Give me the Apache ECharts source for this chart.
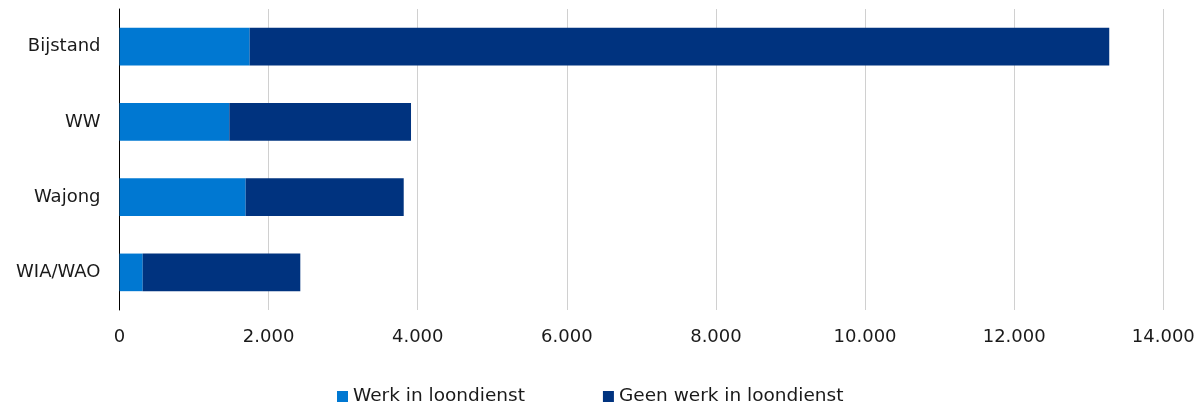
<!DOCTYPE html>
<html>
<head>
<meta charset="utf-8">
<script src="https://cdn.jsdelivr.net/npm/echarts@6/dist/echarts.min.js"></script>
<style>html,body{margin:0;padding:0;background:#fff}#c{width:1202px;height:407px}</style>
</head>
<body>
<div id="c"></div>
<script>
const categories = ['Bijstand', 'WW', 'Wajong', 'WIA/WAO'];
const werk = [1746, 1473, 1692, 311];
const geenWerk = [11529, 2437, 2120, 2114];
const xTicks = { min: 0, max: 14000, interval: 2000 };

function nl(v) { return String(v).replace(/\B(?=(\d{3})+(?!\d))/g, '.'); }

const chart = echarts.init(document.getElementById('c'));
chart.setOption({
  animation: false,
  textStyle: { fontFamily: 'DejaVu Sans' },
  grid: { left: 119.5, right: 38.7, top: 9, bottom: 97, containLabel: false },
  legend: {
    top: 382, left: 332, itemWidth: 11, itemHeight: 11, itemGap: 78, icon: 'rect',
    textStyle: { fontSize: 18.5, color: '#1a1a1a', fontFamily: 'DejaVu Sans' },
    data: ['Werk in loondienst', 'Geen werk in loondienst']
  },
  xAxis: {
    type: 'value', min: xTicks.min, max: xTicks.max, interval: xTicks.interval,
    axisLine: { show: false }, axisTick: { show: false },
    splitLine: { lineStyle: { color: '#d0d0d0', width: 1 } },
    axisLabel: { formatter: nl, fontSize: 18, color: '#1a1a1a', margin: 18 }
  },
  yAxis: {
    type: 'category', data: categories, inverse: true,
    axisLine: { show: true, lineStyle: { color: '#000', width: 1 } },
    axisTick: { show: false },
    axisLabel: { fontSize: 18, color: '#1a1a1a', margin: 19 }
  },
  series: [
    { name: 'Werk in loondienst', type: 'bar', stack: 't', data: werk, barWidth: '50%',
      itemStyle: { color: '#0078d2' } },
    { name: 'Geen werk in loondienst', type: 'bar', stack: 't', data: geenWerk, barWidth: '50%',
      itemStyle: { color: '#00337f' } }
  ]
});
</script>
</body>
</html>
